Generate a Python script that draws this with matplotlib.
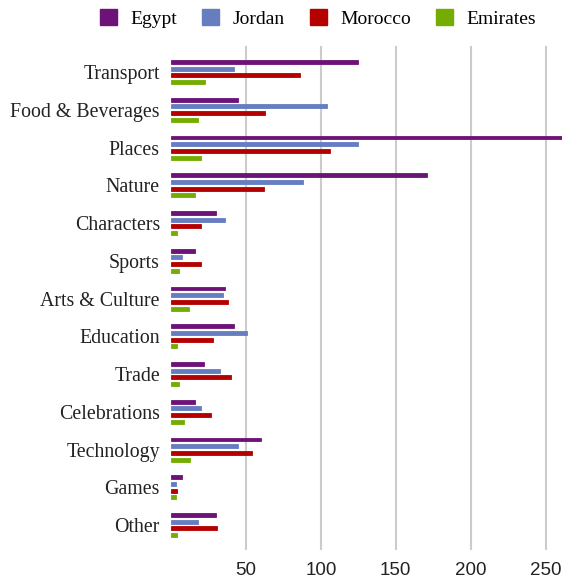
import matplotlib
matplotlib.use('Agg')
import matplotlib.pyplot as plt
import matplotlib.patches as mpatches
import numpy as np

categories = ['Transport', 'Food & Beverages', 'Places', 'Nature', 'Characters',
              'Sports', 'Arts & Culture', 'Education', 'Trade', 'Celebrations',
              'Technology', 'Games', 'Other']
egypt = [125, 45, 268, 171, 30, 16, 36, 42, 22, 16, 60, 7, 30]
jordan = [42, 104, 125, 88, 36, 7, 35, 51, 33, 20, 45, 3, 18]
morocco = [86, 63, 106, 62, 20, 20, 38, 28, 40, 27, 54, 4, 31]
emirates = [23, 18, 20, 16, 4, 5, 12, 4, 5, 9, 13, 3, 4]
series_names = ['Egypt', 'Jordan', 'Morocco', 'Emirates']
colors = ['#6d1377', '#667dc0', '#b50000', '#74ac00']
x_ticks = [50, 100, 150, 200, 250]

fig = plt.figure(figsize=(5.62, 5.81), dpi=100)
ax = fig.add_axes([0.3043, 0.0534, 0.6957, 0.8674])

y = np.arange(len(categories))
pitch = 0.1775
for i, (vals, c) in enumerate(zip([egypt, jordan, morocco, emirates], colors)):
    ax.barh(y + (i - 1.5) * pitch, vals, height=0.105, color=c,
            edgecolor=c, linewidth=0.6, zorder=3)

ax.set_xlim(0, 261)
ax.set_ylim(len(categories) - 1 + 0.66, -0.69)
ax.set_yticks(y)
ax.set_yticklabels(categories, fontfamily='Liberation Serif', fontsize=14.3,
                   color='#222222')
ax.set_xticks(x_ticks)
ax.set_xticklabels([str(t) for t in x_ticks], fontfamily='Liberation Sans',
                   fontsize=13.5, color='#222222')
ax.tick_params(length=0, pad=8)
ax.tick_params(axis='x', pad=9)
ax.grid(axis='x', color='#cccccc', linewidth=1.5, zorder=0)
for s in ax.spines.values():
    s.set_visible(False)

handles = [mpatches.Patch(color=c, label=n) for c, n in zip(colors, series_names)]
fig.legend(handles=handles, loc='center', bbox_to_anchor=(0.566, 0.968), ncol=4,
           frameon=False, handlelength=0.85, handleheight=0.85, handletextpad=0.7,
           columnspacing=1.3, prop={'family': 'Liberation Serif', 'size': 14})

fig.savefig('out.png', dpi=100)
